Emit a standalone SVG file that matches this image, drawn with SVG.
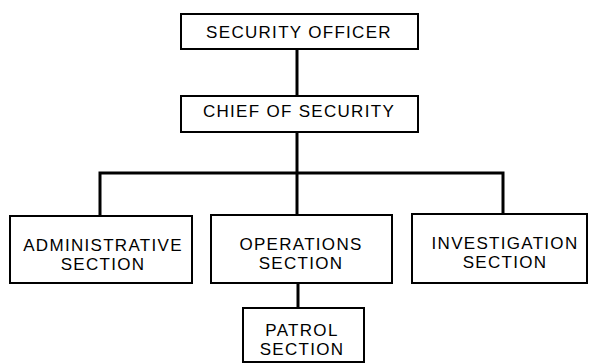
<svg xmlns="http://www.w3.org/2000/svg" width="590" height="364" viewBox="0 0 590 364">
<style>
.box{fill:#fff;stroke:#000;stroke-width:2}
.t{font-family:"Liberation Sans",Arial,sans-serif;font-size:17px;fill:#000;text-anchor:middle;letter-spacing:1.3px}
.c{stroke:#000;stroke-width:3;fill:none}
</style>
<rect width="590" height="364" fill="#fff"/>
<g id="connectors">
<line class="c" x1="297" y1="49" x2="297" y2="96"/>
<line class="c" x1="297" y1="132" x2="297" y2="215"/>
<polyline class="c" points="100,215 100,173 503,173 503,213"/>
<line class="c" x1="298" y1="283" x2="298" y2="308"/>
</g>
<g id="security-officer">
<rect class="box" x="181" y="14" width="237" height="35"/>
<text class="t" x="299" y="38">SECURITY OFFICER</text>
</g>
<g id="chief-of-security">
<rect class="box" x="181" y="96" width="237" height="36"/>
<text class="t" x="299" y="117">CHIEF OF SECURITY</text>
</g>
<g id="administrative-section">
<rect class="box" x="10" y="216" width="182" height="67"/>
<text class="t" x="103" y="251">ADMINISTRATIVE</text>
<text class="t" x="103" y="270">SECTION</text>
</g>
<g id="operations-section">
<rect class="box" x="211" y="215" width="181" height="68"/>
<text class="t" x="301" y="250">OPERATIONS</text>
<text class="t" x="301" y="269">SECTION</text>
</g>
<g id="investigation-section">
<rect class="box" x="412" y="214" width="175" height="69"/>
<text class="t" x="505" y="249">INVESTIGATION</text>
<text class="t" x="505" y="268">SECTION</text>
</g>
<g id="patrol-section">
<rect class="box" x="243" y="308" width="121" height="54"/>
<text class="t" x="302" y="336">PATROL</text>
<text class="t" x="302" y="355">SECTION</text>
</g>
</svg>
